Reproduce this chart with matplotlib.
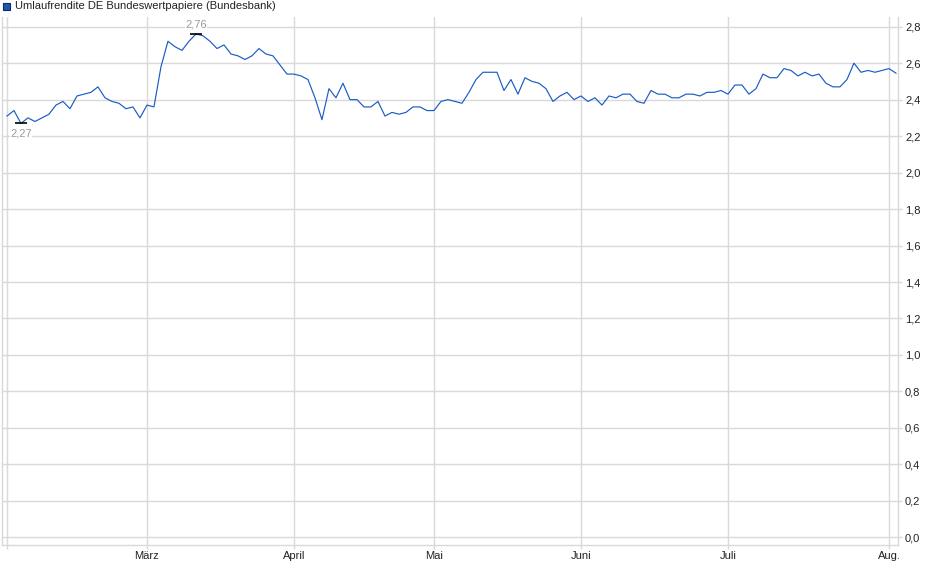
import numpy as np
import pandas as pd
import matplotlib
matplotlib.use("Agg")
import matplotlib.pyplot as plt

plt.rcParams['font.family'] = ['Liberation Sans', 'DejaVu Sans']

# trading days (TARGET calendar), Feb 3 - Aug 4 2025
holidays = ["2025-04-18", "2025-04-21", "2025-05-01"]
dates = pd.bdate_range("2025-02-03", "2025-08-04")
dates = dates[~dates.isin(pd.to_datetime(holidays))]

yields = [
    2.31, 2.34, 2.27, 2.30, 2.28, 2.30, 2.32, 2.37, 2.39, 2.35,
    2.42, 2.43, 2.44, 2.47, 2.41, 2.39, 2.38, 2.35, 2.36, 2.30,
    2.37, 2.36, 2.58, 2.72, 2.69, 2.67, 2.72, 2.76, 2.75, 2.72,
    2.68, 2.70, 2.65, 2.64, 2.62, 2.64, 2.68, 2.65, 2.64, 2.59,
    2.54, 2.54, 2.53, 2.51, 2.41, 2.29, 2.46, 2.41, 2.49, 2.40,
    2.40, 2.36, 2.36, 2.39, 2.31, 2.33, 2.32, 2.33, 2.36, 2.36,
    2.34, 2.34, 2.39, 2.40, 2.39, 2.38, 2.44, 2.51, 2.55, 2.55,
    2.55, 2.45, 2.51, 2.43, 2.52, 2.50, 2.49, 2.46, 2.39, 2.42,
    2.44, 2.40, 2.42, 2.39, 2.41, 2.37, 2.42, 2.41, 2.43, 2.43,
    2.39, 2.38, 2.45, 2.43, 2.43, 2.41, 2.41, 2.43, 2.43, 2.42,
    2.44, 2.44, 2.45, 2.43, 2.48, 2.48, 2.43, 2.46, 2.54, 2.52,
    2.52, 2.57, 2.56, 2.53, 2.55, 2.53, 2.54, 2.49, 2.47, 2.47,
    2.51, 2.60, 2.55, 2.56, 2.55, 2.56, 2.57, 2.545,
]
month_names = {2: "", 3: "März", 4: "April", 5: "Mai", 6: "Juni", 7: "Juli", 8: "Aug."}
series_name = "Umlaufrendite DE Bundeswertpapiere (Bundesbank)"

line_col = "#1a5cc4"
grid_col = "#d9d9d9"

df = pd.DataFrame({"date": dates, "value": yields})
x = np.arange(len(df))
y = df["value"].to_numpy()

fig = plt.figure(figsize=(9.4, 5.79), dpi=100)
ax = fig.add_axes([2 / 940, 1 - 545 / 579, 896 / 940, 528 / 579])

ax.plot(x, y, color=line_col, lw=0.85, zorder=3)

# min / max markers
for idx, off in [(int(np.argmax(y)), 6.5), (int(np.argmin(y)), -7.5)]:
    ax.plot(x[idx], y[idx], marker="_", ms=9, mew=1.2, color="black", zorder=4)
    ax.annotate(f"{y[idx]:.2f}".replace(".", ","), (x[idx], y[idx]),
                xytext=(0, off), textcoords="offset points",
                ha="center", va="center", fontsize=8, color="#9a9a9a", zorder=5,
                bbox=dict(boxstyle="square,pad=0.05", fc="white", ec="none"))

# month ticks at first trading day of each month
first_idx = df.groupby(df["date"].dt.month).head(1).index.to_numpy()
months = df["date"].dt.month.to_numpy()[first_idx]
ax.set_xticks(x[first_idx])
ax.set_xticklabels([month_names[m] for m in months])

yt = np.arange(0, 2.81, 0.2)
ax.set_yticks(yt)
ax.set_yticklabels([f"{v:.1f}".replace(".", ",") for v in yt])
ax.yaxis.tick_right()

ax.set_xlim(-0.71, 127.29)
ax.set_ylim(-0.042, 2.853)

ax.grid(True, color=grid_col, lw=1.0, zorder=0)
ax.tick_params(axis="x", length=3, width=1, color=grid_col, pad=1.5,
               labelsize=8, labelcolor="#222222")
ax.tick_params(axis="y", length=3, width=1, color=grid_col, pad=2,
               labelsize=8, labelcolor="#222222")
for s in ["left", "right", "bottom"]:
    ax.spines[s].set_color(grid_col)
    ax.spines[s].set_linewidth(1.0)
ax.spines["top"].set_visible(False)

# legend in the top-left corner
fig.patches.append(plt.Rectangle((3 / 940, 1 - 10 / 579), 7 / 940, 7 / 579,
                                 transform=fig.transFigure, fc="#1f56b8",
                                 ec="#0d2a66", lw=0.8))
fig.text(15 / 940, 1 - 6 / 579, series_name, fontsize=8, color="#222222",
         ha="left", va="center")

fig.savefig("out.png", dpi=100)
